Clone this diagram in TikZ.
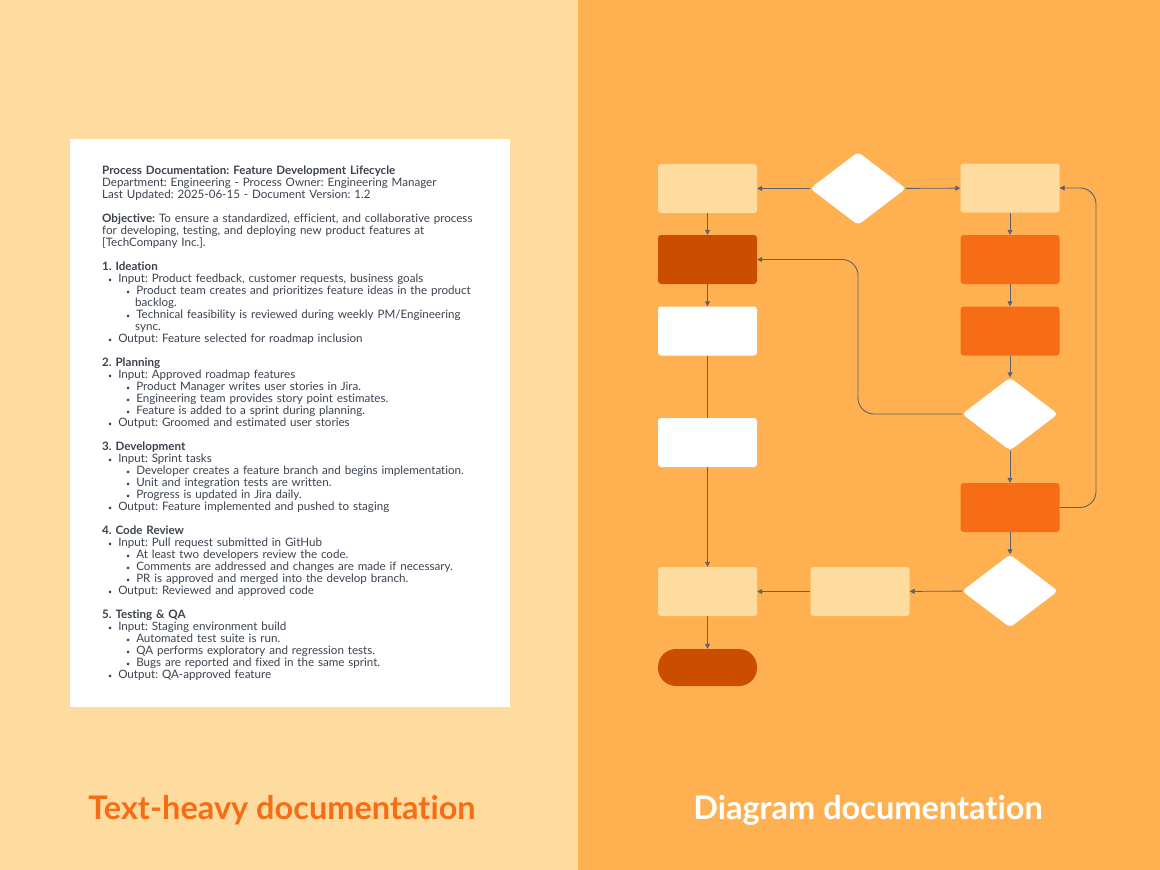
\documentclass[tikz,border=0pt]{standalone}
\usepackage{fontspec}
\setmainfont{Lato}[RawFeature=-liga]
\usetikzlibrary{shapes.geometric,arrows.meta}
\definecolor{lbg}{HTML}{FEDCA0}
\definecolor{rbg}{HTML}{FFB152}
\definecolor{dk}{HTML}{CB4E00}
\definecolor{org}{HTML}{F76D15}
\definecolor{ln}{HTML}{5A6270}
\definecolor{txt}{HTML}{3C4250}
\newcommand{\bl}{{\scriptsize•}}
\frenchspacing
\begin{document}
\begin{tikzpicture}[x=1pt,y=-1pt,
  box/.style={rectangle,rounded corners=3pt,minimum width=99pt,minimum height=49pt,inner sep=0pt},
  dia/.style={diamond,aspect=1.31,minimum width=96pt,minimum height=73pt,fill=white,rounded corners=4pt,inner sep=0pt},
  con/.style={draw=ln,line width=0.9pt,-{Triangle[length=5pt,width=5pt]}},
  pl/.style={draw=ln,line width=0.9pt}]
\useasboundingbox (0,0) rectangle (1160,870);
\fill[lbg] (0,0) rectangle (578,870);
\fill[rbg] (578,0) rectangle (1160,870);
\fill[white] (70,139) rectangle (510,707);
\node[anchor=north west,inner sep=0pt,text=txt,font=\fontsize{11.6}{12}\selectfont,text width=400pt,align=left] (doc) at (102,166) {%
\textbf{Process Documentation: Feature Development Lifecycle}\\
Department: Engineering - Process Owner: Engineering Manager\\
Last Updated: 2025-06-15 - Document Version: 1.2\\[12pt]
\textbf{Objective:} To ensure a standardized, efficient, and collaborative process\\
for developing, testing, and deploying new product features at\\
{[TechCompany Inc.]}.\\[12pt]
\textbf{1. Ideation}\\
\hspace*{6pt}\bl\hspace{6pt}Input: Product feedback, customer requests, business goals\\
\hspace*{24pt}\bl\hspace{6pt}Product team creates and prioritizes feature ideas in the product\\
\hspace*{33pt}backlog.\\
\hspace*{24pt}\bl\hspace{6pt}Technical feasibility is reviewed during weekly PM/Engineering\\
\hspace*{33pt}sync.\\
\hspace*{6pt}\bl\hspace{6pt}Output: Feature selected for roadmap inclusion\\[12pt]
\textbf{2. Planning}\\
\hspace*{6pt}\bl\hspace{6pt}Input: Approved roadmap features\\
\hspace*{24pt}\bl\hspace{6pt}Product Manager writes user stories in Jira.\\
\hspace*{24pt}\bl\hspace{6pt}Engineering team provides story point estimates.\\
\hspace*{24pt}\bl\hspace{6pt}Feature is added to a sprint during planning.\\
\hspace*{6pt}\bl\hspace{6pt}Output: Groomed and estimated user stories\\[12pt]
\textbf{3. Development}\\
\hspace*{6pt}\bl\hspace{6pt}Input: Sprint tasks\\
\hspace*{24pt}\bl\hspace{6pt}Developer creates a feature branch and begins implementation.\\
\hspace*{24pt}\bl\hspace{6pt}Unit and integration tests are written.\\
\hspace*{24pt}\bl\hspace{6pt}Progress is updated in Jira daily.\\
\hspace*{6pt}\bl\hspace{6pt}Output: Feature implemented and pushed to staging\\[12pt]
\textbf{4. Code Review}\\
\hspace*{6pt}\bl\hspace{6pt}Input: Pull request submitted in GitHub\\
\hspace*{24pt}\bl\hspace{6pt}At least two developers review the code.\\
\hspace*{24pt}\bl\hspace{6pt}Comments are addressed and changes are made if necessary.\\
\hspace*{24pt}\bl\hspace{6pt}PR is approved and merged into the develop branch.\\
\hspace*{6pt}\bl\hspace{6pt}Output: Reviewed and approved code\\[12pt]
\textbf{5. Testing \& QA}\\
\hspace*{6pt}\bl\hspace{6pt}Input: Staging environment build\\
\hspace*{24pt}\bl\hspace{6pt}Automated test suite is run.\\
\hspace*{24pt}\bl\hspace{6pt}QA performs exploratory and regression tests.\\
\hspace*{24pt}\bl\hspace{6pt}Bugs are reported and fixed in the same sprint.\\
\hspace*{6pt}\bl\hspace{6pt}Output: QA-approved feature};
\node[text=org,font=\fontsize{32.5}{34}\selectfont\bfseries] (t1) at (282,810) {Text-heavy documentation};
\node[text=white,font=\fontsize{32.5}{34}\selectfont\bfseries] (t2) at (868,810) {Diagram documentation};
% flowchart
\node[box,fill=lbg] (A) at (707.5,188.5) {};
\node[dia] (D1) at (858,188.5) {};
\node[box,fill=lbg] (B) at (1010,188) {};
\node[box,fill=dk] (C) at (707.5,259.5) {};
\node[box,fill=white] (E) at (707.5,331) {};
\node[box,fill=org] (F) at (1010,259.5) {};
\node[box,fill=org] (G) at (1010,331) {};
\node[dia] (D2) at (1010,414) {};
\node[box,fill=white] (I) at (707.5,442.5) {};
\node[box,fill=org] (H) at (1010,507.5) {};
\node[dia] (D3) at (1010,591) {};
\node[box,fill=lbg] (J) at (707.5,591.5) {};
\node[box,fill=lbg] (K) at (860,591.5) {};
\node[rectangle,rounded corners=18pt,minimum width=99pt,minimum height=37pt,fill=dk] (L) at (707.5,667.5) {};
\draw[con] (D1) -- (A);
\draw[con] (D1) -- (B);
\draw[con] (A) -- (C);
\draw[con] (C) -- (E);
\draw[pl] (E) -- (I);
\draw[con] (I) -- (J);
\draw[con] (B) -- (F);
\draw[con] (F) -- (G);
\draw[con] (G) -- (D2);
\draw[con,rounded corners=16pt] (D2.west) -- (858,414) -- (858,259.5) -- (C.east);
\draw[con] (D2) -- (H);
\draw[con,rounded corners=16pt] (H.east) -- (1096,507.5) -- (1096,188) -- (B.east);
\draw[con] (H) -- (D3);
\draw[con] (D3) -- (K);
\draw[con] (K) -- (J);
\draw[con] (J) -- (L);
\end{tikzpicture}
\end{document}
